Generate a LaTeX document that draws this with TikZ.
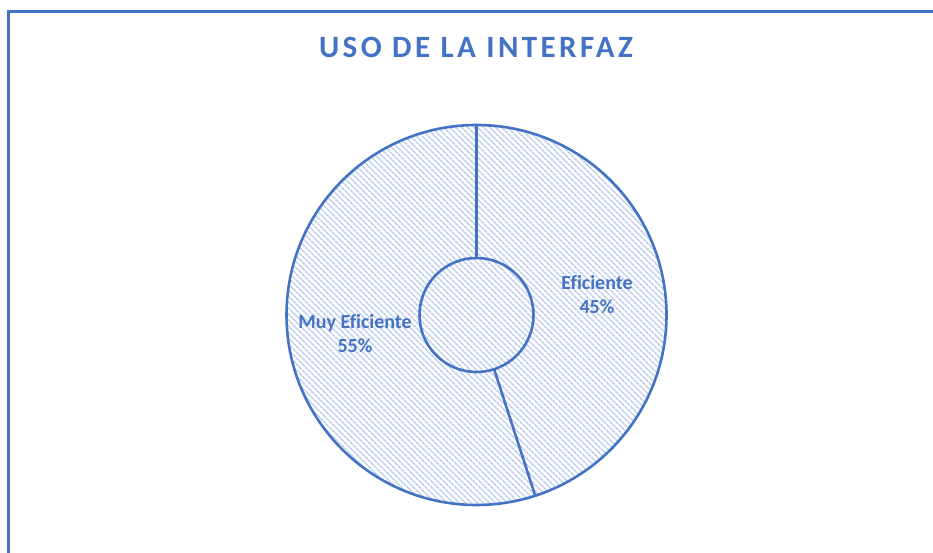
\documentclass[tikz,border=0pt]{standalone}
\usepackage{fontspec}
\setmainfont{Carlito}[Ligatures=NoCommon]
\usepackage{tikz}
\usetikzlibrary{patterns.meta}
\usetikzlibrary{calc}

\definecolor{accent}{HTML}{4472C4}
\definecolor{hatch}{RGB}{192,208,238}

\tikzset{
    ring/.style = {line width=2.6pt, accent},
    slice/.style = {pattern={Lines[angle=-45, distance=4pt, line width=1.7pt]}, pattern color=hatch},
    pct/.style = {accent, align=center, anchor=base, font=\bfseries\fontsize{20}{24}\selectfont}
}

\begin{document}
\begin{tikzpicture}[x=1pt, y=1pt]
    \useasboundingbox (0,0) rectangle (933,553);

    \coordinate (Center) at (476.5,238);
    \def\Rout{190}
    \def\Rin{57}

    % Frame (cut at the right and bottom)
    \draw [accent, line width=3pt] (8.5,0) -- (8.5,541.5) -- (933,541.5);

    % Title
    \node (Title) [accent, anchor=base, font=\bfseries\fontsize{31}{36}\selectfont\addfontfeature{LetterSpace=11}] at (476,495) {USO DE LA INTERFAZ};

    % Hatched slices
    \fill [slice] ($(Center)+(90:\Rout)$) arc [start angle=90, end angle=-72, radius=\Rout]
        -- ($(Center)+(-72:\Rin)$) arc [start angle=-72, end angle=90, radius=\Rin] -- cycle;
    \fill [slice] ($(Center)+(-72:\Rout)$) arc [start angle=-72, end angle=-270, radius=\Rout]
        -- ($(Center)+(90:\Rin)$) arc [start angle=90, end angle=-72, radius=\Rin] -- cycle;

    % Outlines
    \draw [ring] (Center) circle (\Rout);
    \draw [ring] (Center) circle (\Rin);
    \foreach \a in {90, -72} {
        \draw [ring] ($(Center)+(\a:\Rin)$) -- ($(Center)+(\a:\Rout)$);
    }

    % Data labels (anchored at the baseline of the second line)
    \node (Eficiente) [pct] at (597,239) {Eficiente\\45\%};
    \node (MuyEficiente) [pct] at (355,200) {Muy Eficiente\\55\%};
\end{tikzpicture}
\end{document}
